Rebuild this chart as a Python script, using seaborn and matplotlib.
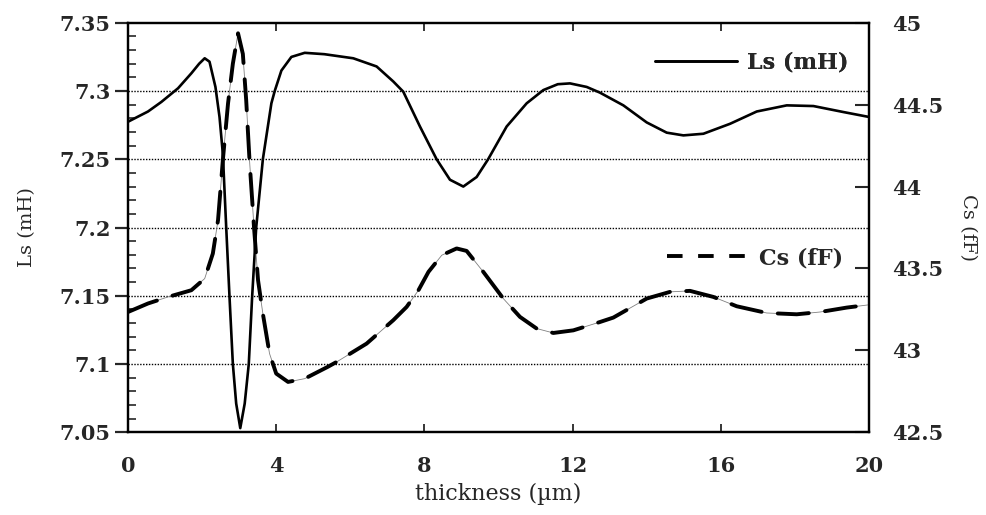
import numpy as np
import pandas as pd
import matplotlib
matplotlib.use("Agg")
import matplotlib.pyplot as plt
import seaborn as sns
from matplotlib.ticker import MultipleLocator
from matplotlib.lines import Line2D

# ---- data ----
ls_x = [0, 0.54, 0.9, 1.35, 1.71, 1.92, 2.07, 2.2, 2.36, 2.47, 2.56, 2.65, 2.74,
        2.83, 2.92, 3.03, 3.15, 3.26, 3.35, 3.46, 3.64, 3.87, 3.96, 4.14, 4.41,
        4.77, 5.3, 6.08, 6.71, 7.16, 7.43, 7.88, 8.33, 8.69, 9.05, 9.41, 9.72,
        10.22, 10.76, 11.21, 11.6, 11.93, 12.38, 12.74, 13.37, 14.0, 14.54,
        14.99, 15.53, 16.25, 16.97, 17.78, 18.5, 19.31, 20]
ls_y = [7.2775, 7.285, 7.292, 7.302, 7.313, 7.320, 7.324, 7.3215, 7.303, 7.281,
        7.254, 7.2005, 7.149, 7.100, 7.071, 7.053, 7.071, 7.100, 7.149, 7.200,
        7.250, 7.291, 7.300, 7.315, 7.325, 7.328, 7.327, 7.324, 7.318, 7.307,
        7.2995, 7.274, 7.250, 7.235, 7.230, 7.237, 7.250, 7.274, 7.291, 7.3007,
        7.305, 7.3056, 7.303, 7.2988, 7.2895, 7.277, 7.2695, 7.2675, 7.2687,
        7.276, 7.285, 7.2895, 7.289, 7.2846, 7.281]
cs_x = [0, 0.54, 1.08, 1.71, 2.07, 2.29, 2.43, 2.56, 2.70, 2.83, 2.97, 3.10, 3.19,
        3.28, 3.40, 3.51, 3.64, 3.82, 4.0, 4.32, 4.77, 5.4, 5.63, 6.44, 7.16,
        7.52, 7.84, 8.11, 8.47, 8.87, 9.14, 9.59, 10.13, 10.58, 11.03, 11.48,
        12.02, 12.74, 13.1, 14.0, 14.63, 15.17, 15.8, 16.43, 17.24, 18.05, 18.68,
        19.4, 20]
cs_y = [43.234, 43.286, 43.326, 43.367, 43.438, 43.591, 43.795, 44.161, 44.508,
        44.75, 44.936, 44.81, 44.528, 44.16, 43.754, 43.428, 43.224, 42.98,
        42.858, 42.807, 42.827, 42.9, 42.929, 43.041, 43.184, 43.265, 43.367,
        43.479, 43.581, 43.622, 43.607, 43.479, 43.316, 43.204, 43.133, 43.106,
        43.122, 43.173, 43.2, 43.316, 43.357, 43.363, 43.326, 43.269, 43.228,
        43.22, 43.234, 43.261, 43.278]

x_ticks = [0, 4, 8, 12, 16, 20]
ls_ticks = [7.05, 7.1, 7.15, 7.2, 7.25, 7.3, 7.35]
ls_tick_labels = ["7.05", "7.1", "7.15", "7.2", "7.25", "7.3", "7.35"]
cs_ticks = [42.5, 43, 43.5, 44, 44.5, 45]
cs_tick_labels = ["42.5", "43", "43.5", "44", "44.5", "45"]

ls_df = pd.DataFrame({"thickness": ls_x, "Ls": ls_y})
cs_df = pd.DataFrame({"thickness": cs_x, "Cs": cs_y})

sns.set_style("ticks")
plt.rcParams["font.family"] = ["DejaVu Serif"]
plt.rcParams["lines.solid_capstyle"] = "round"
plt.rcParams["lines.solid_joinstyle"] = "round"

fig = plt.figure(figsize=(9.87, 5.15), dpi=100)
ax = fig.add_axes([128 / 987, 1 - 432.2 / 515, 741 / 987, 409.4 / 515])
ax2 = ax.twinx()

sns.lineplot(data=ls_df, x="thickness", y="Ls", ax=ax, color="black", lw=1.9,
             estimator=None, sort=False)
# faint trace visible in the gaps of the dashed line
sns.lineplot(data=cs_df, x="thickness", y="Cs", ax=ax2, color="#808080", lw=0.6,
             estimator=None, sort=False)
sns.lineplot(data=cs_df, x="thickness", y="Cs", ax=ax2, color="black", lw=2.8,
             estimator=None, sort=False)
ax2.lines[1].set_dashes([8, 4.2])
ax2.lines[1].set_dash_capstyle("round")

ax.set_xlim(0, 20)
ax.set_ylim(7.05, 7.35)
ax2.set_ylim(42.5, 45)

ax.set_xticks(x_ticks)
ax.set_xticklabels([str(t) for t in x_ticks])
ax.set_yticks(ls_ticks)
ax.set_yticklabels(ls_tick_labels)
ax.yaxis.set_minor_locator(MultipleLocator(0.01))
ax2.set_yticks(cs_ticks)
ax2.set_yticklabels(cs_tick_labels)

for y in ls_ticks[1:-1]:
    ax.axhline(y, color="black", lw=1.0, ls=(0, (1, 1.1)), zorder=0)

for a in (ax, ax2):
    for s in a.spines.values():
        s.set_linewidth(1.6)
        s.set_color("black")

ax.tick_params(axis="y", which="major", direction="out", length=9.5, width=1.6,
               pad=3, labelsize=15)
ax.tick_params(axis="y", which="minor", direction="in", length=5.5, width=1.2)
ax.tick_params(axis="x", which="major", direction="in", length=6, width=1.3,
               top=True, pad=17, labelsize=15)
ax2.tick_params(axis="y", which="major", direction="in", length=10, width=1.5,
                pad=17, labelsize=15)
for lab in ax.get_xticklabels() + ax.get_yticklabels() + ax2.get_yticklabels():
    lab.set_fontweight("bold")

ax.set_xlabel("thickness (µm)", fontsize=16, labelpad=5)
ax.set_ylabel("Ls (mH)", fontsize=14, labelpad=17)
ax2.set_ylabel("Cs (fF)", fontsize=14, rotation=270, labelpad=24)

h1 = Line2D([], [], color="black", lw=1.9)
h2 = Line2D([], [], color="black", lw=2.8, dashes=[4, 4])
leg1 = ax.legend([h1], ["Ls (mH)"], loc="center left", bbox_to_anchor=(0.711, 0.902),
                 frameon=False, prop=dict(size=16, weight="bold"), handlelength=3.7,
                 handletextpad=0.45, borderaxespad=0, borderpad=0)
ax.add_artist(leg1)
leg2 = ax2.legend([h2], ["Cs (fF)"], loc="center left", bbox_to_anchor=(0.727, 0.4255),
                  frameon=False, prop=dict(size=16, weight="bold"), handlelength=3.6,
                  handletextpad=0.55, borderaxespad=0, borderpad=0)

fig.savefig("out.png", dpi=100)
